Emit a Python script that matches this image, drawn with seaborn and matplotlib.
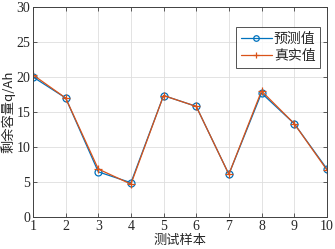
import matplotlib
matplotlib.use("Agg")
import matplotlib.pyplot as plt
import seaborn as sns
import pandas as pd

samples = [1, 2, 3, 4, 5, 6, 7, 8, 9, 10]
predicted = [20.0, 17.0, 6.45, 4.9, 17.35, 15.8, 6.1, 17.7, 13.35, 6.9]
actual = [20.3, 17.0, 6.85, 4.7, 17.35, 15.8, 6.1, 18.0, 13.35, 6.75]
series_names = ["预测值", "真实值"]
x_label = "测试样本"
y_label = "剩余容量q/Ah"

sns.set_style("ticks")
plt.rcParams['font.family'] = ['Liberation Serif', 'Noto Sans CJK SC']

df = pd.DataFrame({
    "x": samples * 2,
    "y": predicted + actual,
    "s": [series_names[0]] * len(samples) + [series_names[1]] * len(samples),
})

fig = plt.figure(figsize=(3.35, 2.49), dpi=100)
ax = fig.add_axes([0.0985, 0.1285, 0.877, 0.8435])

blue = "#0072BD"
orange = "#D95319"
sns.lineplot(data=df[df.s == series_names[0]], x="x", y="y", ax=ax, color=blue,
             marker="o", markersize=5, markerfacecolor="none", markeredgecolor=blue,
             markeredgewidth=0.9, linewidth=0.9, label=series_names[0])
sns.lineplot(data=df[df.s == series_names[1]], x="x", y="y", ax=ax, color=orange,
             marker="+", markersize=6, markeredgecolor=orange,
             markeredgewidth=0.9, linewidth=0.9, label=series_names[1])

ax.set_xlim(1, 10)
ax.set_ylim(0, 30)
ax.set_xticks(range(1, 11))
ax.set_yticks(range(0, 31, 5))
ax.grid(True, color="#dedede", linewidth=0.6)
ax.set_axisbelow(True)
for sp in ax.spines.values():
    sp.set_color("#404040")
    sp.set_linewidth(0.7)
    sp.set_visible(True)
ax.tick_params(direction="in", length=3, width=0.6, color="#404040",
               labelsize=10, labelcolor="#262626", top=True, right=True, pad=2)
for lab in ax.get_xticklabels() + ax.get_yticklabels():
    lab.set_family(['Liberation Serif'])
ax.set_xlabel(x_label, fontsize=9.5, color="#262626", labelpad=1,
              family=['Noto Sans CJK SC', 'Liberation Serif'])
ax.set_ylabel(y_label, fontsize=9.5, color="#262626", labelpad=1,
              family=['Noto Sans CJK SC', 'Liberation Serif'])

leg = ax.legend(loc="upper right", bbox_to_anchor=(0.978, 0.905),
                frameon=True, fancybox=False, edgecolor="#262626",
                handlelength=2.3, borderpad=0.35, labelspacing=0.25,
                handletextpad=0.1, borderaxespad=0.0, markerscale=0.8,
                prop={'family': ['Noto Sans CJK SC'], 'size': 10})
leg.get_frame().set_linewidth(0.7)

fig.savefig("out.png", dpi=100)
